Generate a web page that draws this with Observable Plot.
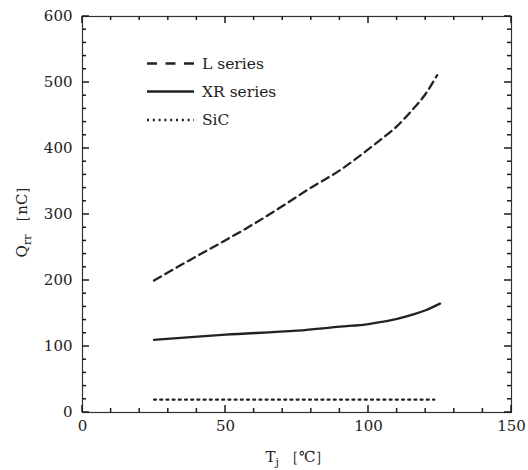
<!DOCTYPE html>
<html><head><meta charset="utf-8">
<script src="https://cdn.jsdelivr.net/npm/d3@7"></script>
<script src="https://cdn.jsdelivr.net/npm/@observablehq/plot@0.6"></script>
<style>body{margin:0;background:#fff;}</style>
</head><body><div id="chart"></div>
<script>
// Data
const tempL = [25, 40, 50, 60, 70, 80, 90, 100, 105, 110, 115, 120, 124];
const qrrL  = [200, 237, 261, 286, 313, 341, 367, 399, 416, 434, 457, 483, 511];
const tempXR = [25, 50, 75, 90, 100, 103, 110, 116, 120, 125];
const qrrXR  = [110, 118, 124, 130, 134, 136, 142, 149, 155, 165];
const tempSiC = [25, 123];
const qrrSiC  = [19.5, 19.5];
const seriesNames = ["L series", "XR series", "SiC"];
const xTicks = [0, 50, 100, 150];
const yTicks = [0, 100, 200, 300, 400, 500, 600];
const xMinor = d3.range(0, 151, 10);
const yMinor = d3.range(0, 601, 20);

const rows = (xs, ys, name) => xs.map((x, i) => ({x, y: ys[i], series: name}));
const dataL = rows(tempL, qrrL, seriesNames[0]);
const dataXR = rows(tempXR, qrrXR, seriesNames[1]);
const dataSiC = rows(tempSiC, qrrSiC, seriesNames[2]);
const tickRowsX = xMinor.map(v => ({v, len: xTicks.includes(v) ? 7 : 4}));
const tickRowsY = yMinor.map(v => ({v, len: yTicks.includes(v) ? 7 : 4}));

const ink = "#222";
const dashes = ["8,5", null, "2,4.2"];
const tk = "#1a1a1a";
const M = {left: 82, right: 17, top: 16, bottom: 58}, W = 528, H = 470;

const plot = Plot.plot({
  width: W, height: H,
  marginLeft: M.left, marginRight: M.right, marginTop: M.top, marginBottom: M.bottom,
  style: {fontFamily: "'DejaVu Serif', serif", fontSize: "15px", color: "#222", background: "#fff"},
  x: {domain: [0, 150]},
  y: {domain: [0, 600]},
  marks: [
    Plot.frame({stroke: "#333", strokeWidth: 1.2, fill: "none"}),
    Plot.axisX({anchor: "bottom", ticks: xTicks, tickSize: 0, tickPadding: 8, tickFormat: d => d, label: null}),
    Plot.axisY({anchor: "left", ticks: yTicks, tickSize: 0, tickPadding: 10, tickFormat: d => d, label: null}),
    Plot.line(dataL, {x: "x", y: "y", curve: "monotone-x", stroke: ink, strokeWidth: 2.3, strokeDasharray: dashes[0]}),
    Plot.line(dataXR, {x: "x", y: "y", curve: "monotone-x", stroke: ink, strokeWidth: 2.3}),
    Plot.line(dataSiC, {x: "x", y: "y", stroke: ink, strokeWidth: 2.2, strokeDasharray: dashes[2]})
  ]
});

document.getElementById("chart").appendChild(plot);
const svg = d3.select(plot);
const psx = plot.scale("x"), psy = plot.scale("y");
const fx = d3.scaleLinear([0, 150], [M.left, W - M.right]);
const fy = d3.scaleLinear([0, 600], [H - M.bottom, M.top]);
const sx = v => { const p = psx && psx.apply ? psx.apply(v) : NaN; return Number.isFinite(p) ? p : fx(v); };
const sy = v => { const p = psy && psy.apply ? psy.apply(v) : NaN; return Number.isFinite(p) ? p : fy(v); };
const bx = [sx(0), sx(150)];
const by = [sy(0), sy(600)];

// Inward ticks on all four sides
const tg = svg.append("g").attr("stroke", tk).attr("stroke-width", 1.5);
tickRowsX.forEach(({v, len}) => {
  const px = sx(v);
  tg.append("line").attr("x1", px).attr("x2", px).attr("y1", by[0]).attr("y2", by[0] - len).attr("stroke", tk).attr("stroke-width", 1.5);
  tg.append("line").attr("x1", px).attr("x2", px).attr("y1", by[1]).attr("y2", by[1] + len).attr("stroke", tk).attr("stroke-width", 1.5);
});
tickRowsY.forEach(({v, len}) => {
  const py = sy(v);
  tg.append("line").attr("y1", py).attr("y2", py).attr("x1", bx[0]).attr("x2", bx[0] + len).attr("stroke", tk).attr("stroke-width", 1.5);
  tg.append("line").attr("y1", py).attr("y2", py).attr("x1", bx[1]).attr("x2", bx[1] - len).attr("stroke", tk).attr("stroke-width", 1.5);
});

// Legend
const leg = svg.append("g").attr("font-family", "'DejaVu Serif', serif").attr("font-size", 15.5)
  .attr("fill", ink).attr("text-anchor", "start");
const legY = [63.5, 91.5, 120];
seriesNames.forEach((name, i) => {
  const line = leg.append("line").attr("x1", 147).attr("x2", 194).attr("y1", legY[i]).attr("y2", legY[i])
    .attr("stroke", ink).attr("stroke-width", 2.3);
  if (i === 0) line.attr("stroke-dasharray", "10,8.5");
  if (i === 2) line.attr("stroke-dasharray", "2,3.8");
  leg.append("text").attr("x", 202).attr("y", legY[i] + 5).text(name);
});

// Axis titles
const xl = svg.append("text").attr("x", 298).attr("y", 462).attr("text-anchor", "middle")
  .attr("font-family", "'DejaVu Serif', serif").attr("font-size", 15).attr("fill", ink);
xl.append("tspan").text("T");
xl.append("tspan").attr("font-size", 11).attr("dy", 4).text("j");
xl.append("tspan").attr("dy", -4).text(" ［℃］");

const yl = svg.append("text").attr("transform", "translate(27,218) rotate(-90)").attr("text-anchor", "middle")
  .attr("font-family", "'DejaVu Serif', serif").attr("font-size", 15).attr("fill", ink);
yl.append("tspan").text("Q");
yl.append("tspan").attr("font-size", 11).attr("dy", 4).text("rr");
yl.append("tspan").attr("dy", -4).text(" ［nC］");
</script>
</body></html>
